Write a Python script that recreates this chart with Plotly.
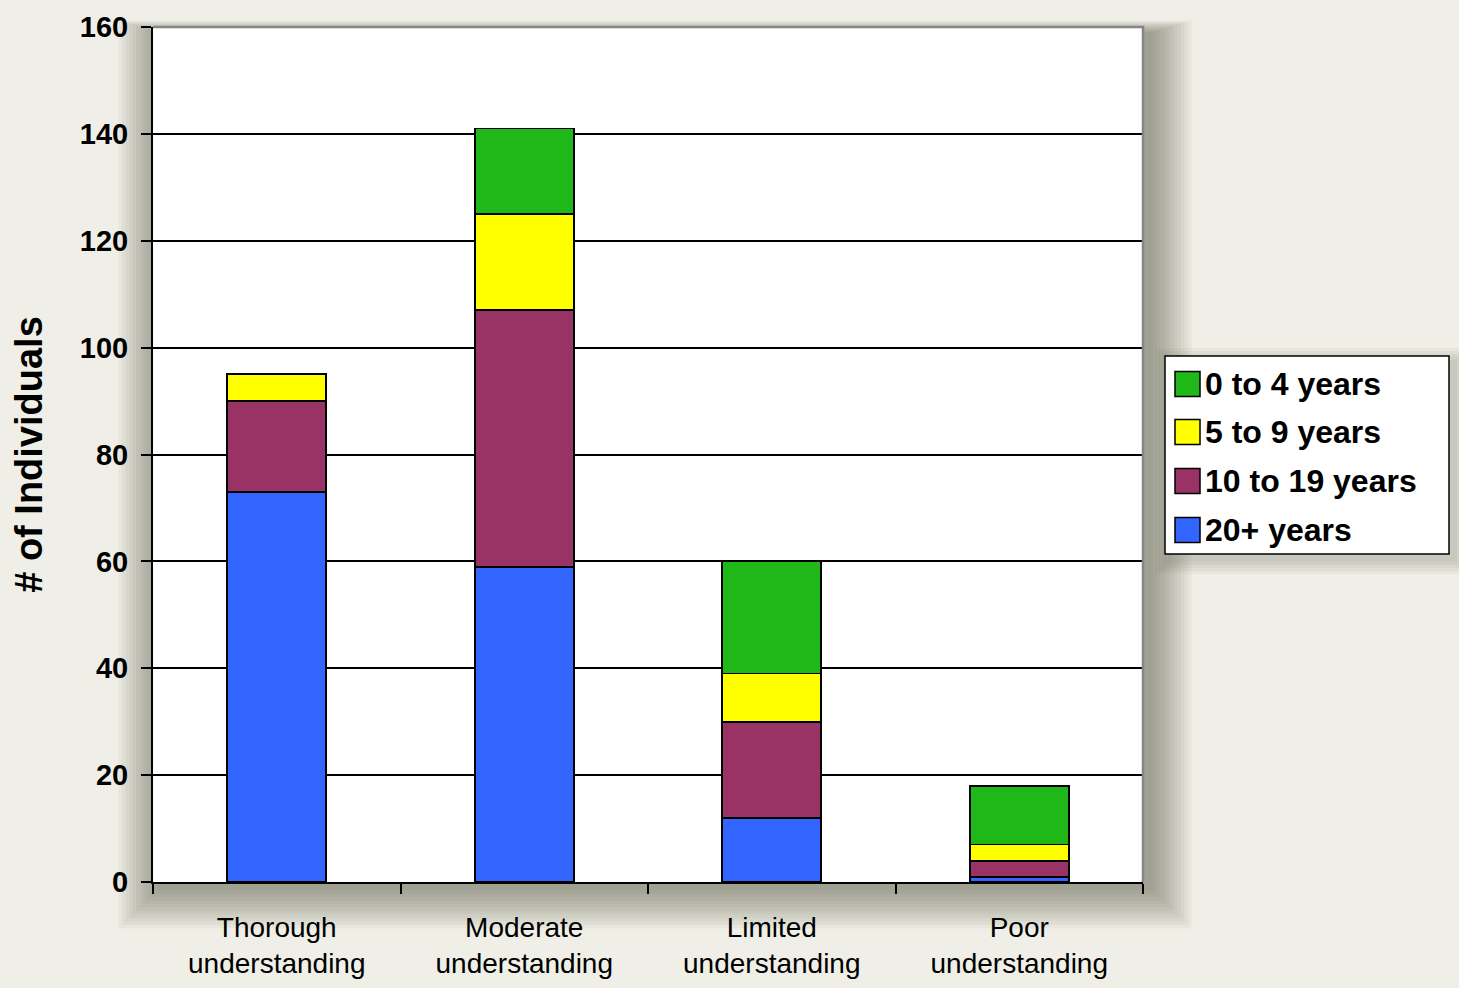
import plotly.graph_objects as go

categories = ["Thorough<br>understanding", "Moderate<br>understanding",
              "Limited<br>understanding", "Poor<br>understanding"]
series_names = ["20+ years", "10 to 19 years", "5 to 9 years", "0 to 4 years"]
v_20plus = [73, 59, 12, 1]
v_10to19 = [17, 48, 18, 3]
v_5to9 = [5, 18, 9, 3]
v_0to4 = [0, 16, 21, 11]
y_ticks = [0, 20, 40, 60, 80, 100, 120, 140, 160]

colors = ["#3366FF", "#993366", "#FFFF00", "#20B718"]
values = [v_20plus, v_10to19, v_5to9, v_0to4]
FONT = "Liberation Sans, Arial, sans-serif"

fig = go.Figure()
for name, vals, col in zip(series_names, values, colors):
    fig.add_trace(go.Bar(
        x=categories, y=vals, name=name, showlegend=False,
        marker=dict(color=col, line=dict(color="black", width=1.8)),
    ))

W, H = 1459, 988
L, R, T, B = 153, 316, 27, 106
PW, PH = W - L - R, H - T - B


def px(xp):
    return (xp - L) / PW


def py(yp):
    return (H - B - yp) / PH


shapes = []
annotations = []
# soft drop shadow around plot area
for i in range(12):
    e = 2 + i * 3.5
    shapes.append(dict(
        type="rect", xref="paper", yref="paper", layer="below",
        x0=px(L + 6 - e), x1=px(W - R + 8 + e),
        y0=py(H - B + 6 + e), y1=py(T + 6 - e * 0.3),
        fillcolor="rgba(70,70,60,0.05)", line=dict(width=0),
    ))
# white plot face
shapes.append(dict(type="rect", xref="paper", yref="paper", layer="below",
                   x0=0, x1=1, y0=0, y1=1, fillcolor="white", line=dict(width=0)))
# grey top/right border
shapes.append(dict(type="path", xref="paper", yref="paper", layer="above",
                   path="M 0,1 L 1,1 L 1,0", line=dict(color="#858585", width=2.5)))

# custom legend (top-to-bottom: reversed series order)
bx0, bx1, by0, by1 = 1165, 1449, 356, 554
for i in range(5):
    e = 2 + i * 3
    shapes.append(dict(type="rect", xref="paper", yref="paper", layer="below",
                       x0=px(bx0 + 5 - e), x1=px(bx1 + 6 + e),
                       y0=py(by1 + 6 + e), y1=py(by0 + 6 - e),
                       fillcolor="rgba(70,70,60,0.05)", line=dict(width=0)))
shapes.append(dict(type="rect", xref="paper", yref="paper", layer="above",
                   x0=px(bx0), x1=px(bx1), y0=py(by1), y1=py(by0),
                   fillcolor="white", line=dict(color="black", width=1.5)))
row_y = [384, 432, 481, 530]
for k, (name, col) in enumerate(zip(series_names[::-1], colors[::-1])):
    cy = row_y[k]
    shapes.append(dict(type="rect", xref="paper", yref="paper", layer="above",
                       x0=px(1175), x1=px(1200), y0=py(cy + 12.5), y1=py(cy - 12.5),
                       fillcolor=col, line=dict(color="black", width=1.5)))
    annotations.append(dict(xref="paper", yref="paper", x=px(1203), y=py(cy),
                            xanchor="left", yanchor="middle", showarrow=False,
                            text=f"<b>{name}</b>",
                            font=dict(size=32, family=FONT, color="black")))

fig.update_layout(
    width=W, height=H,
    barmode="stack", bargap=0.6,
    paper_bgcolor="#EFEFE7", plot_bgcolor="rgba(0,0,0,0)",
    margin=dict(l=L, r=R, t=T, b=B, pad=0, autoexpand=False),
    font=dict(family=FONT, color="black"),
    shapes=shapes, annotations=annotations,
    showlegend=False,
    xaxis=dict(
        automargin=False,
        showline=True, linecolor="black", linewidth=2,
        ticks="outside", tickson="boundaries", ticklen=10, tickwidth=2, tickcolor="black",
        tickfont=dict(size=28, family=FONT), ticklabelstandoff=19,
        showgrid=False,
    ),
    yaxis=dict(
        automargin=False,
        range=[0, 160], tickvals=y_ticks,
        showline=True, linecolor="black", linewidth=2,
        ticks="outside", ticklen=10, tickwidth=2, tickcolor="black",
        tickfont=dict(size=29, weight="bold", family=FONT), ticklabelstandoff=7,
        showgrid=True, gridcolor="black", gridwidth=1.8,
        zeroline=False,
        title=dict(text="# of Individuals", standoff=26,
                   font=dict(size=38, weight="bold", family=FONT)),
    ),
)

fig.write_html("out.html", config={"displayModeBar": False},
               post_script="document.body.style.margin='0';")
